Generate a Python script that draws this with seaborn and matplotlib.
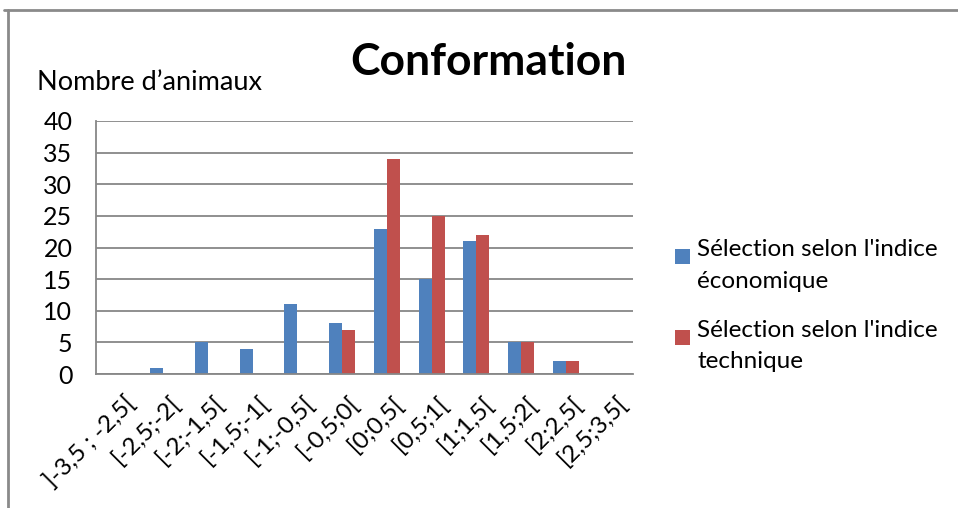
import matplotlib
matplotlib.use("Agg")
import matplotlib.pyplot as plt
from matplotlib.lines import Line2D
from matplotlib.patches import Rectangle
from matplotlib.transforms import ScaledTranslation
import seaborn as sns
import pandas as pd

classes = ["]-3,5 ; -2,5[", "[-2,5;-2[", "[-2;-1,5[", "[-1,5;-1[", "[-1;-0,5[",
           "[-0,5;0[", "[0;0,5[", "[0,5;1[", "[1;1,5[", "[1,5;2[", "[2;2,5[", "[2,5;3,5["]
economique = [0, 1, 5, 4, 11, 8, 23, 15, 21, 5, 2, 0]
technique = [0, 0, 0, 0, 0, 7, 34, 25, 22, 5, 2, 0]
series_names = ["Sélection selon l'indice\néconomique", "Sélection selon l'indice\ntechnique"]
colors = ["#4F81BD", "#C0504D"]
yticks = [0, 5, 10, 15, 20, 25, 30, 35, 40]

df = pd.DataFrame({
    "classe": classes * 2,
    "n": economique + technique,
    "serie": [series_names[0]] * len(classes) + [series_names[1]] * len(classes),
})

sns.set_theme(style="white")
plt.rcParams["font.family"] = ["Lato", "DejaVu Sans"]

W, H = 958, 508
fig = plt.figure(figsize=(W / 100, H / 100), dpi=100)
ax = fig.add_axes([96 / W, 1 - 374 / H, (633 - 96) / W, (374 - 121) / H])

sns.barplot(data=df, x="classe", y="n", hue="serie", order=classes,
            hue_order=series_names, palette=colors, width=0.58, saturation=1,
            linewidth=0, ax=ax, legend=False)

ax.set_ylim(0, 40)
ax.set_xlim(-0.5, len(classes) - 0.5)
ax.set_yticks(yticks)
ax.set_yticklabels([str(v) for v in yticks], fontsize=18, color="black")
ax.set_xticks(range(len(classes)))
ax.set_xticklabels(classes, rotation=45, ha="right", va="top",
                   rotation_mode="anchor", fontsize=17.5, color="black")
ax.tick_params(axis="x", pad=13, length=0)
ax.tick_params(axis="y", pad=17, length=0)
shift = ScaledTranslation(6 / 100, 0, fig.dpi_scale_trans)
for lab in ax.get_xticklabels():
    lab.set_transform(lab.get_transform() + shift)
ax.set_xlabel("")
ax.set_ylabel("")
ax.yaxis.grid(True, color="#878787", linewidth=1.3)
ax.set_axisbelow(True)
for side in ["top", "right"]:
    ax.spines[side].set_visible(False)
for side in ["left", "bottom"]:
    ax.spines[side].set_color("#878787")
    ax.spines[side].set_linewidth(1.3)

# legend: square key aligned with the first line of each entry
legend_baselines = [(256, 288), (337, 368)]
for name, color, (b1, b2) in zip(series_names, colors, legend_baselines):
    fig.add_artist(Rectangle((675 / W, 1 - (b1 + 8) / H), 15 / W, 15 / H,
                             transform=fig.transFigure, facecolor=color,
                             edgecolor="none"))
    first, second = name.split("\n")
    fig.text(697 / W, 1 - b1 / H, first, ha="left", va="baseline",
             fontsize=17.5, color="black")
    fig.text(697 / W, 1 - b2 / H, second, ha="left", va="baseline",
             fontsize=17.5, color="black")

fig.text(488 / W, 1 - 62 / H, "Conformation", ha="center", va="center",
         fontsize=32, fontweight="bold", color="black")
fig.text(37 / W, 1 - 83 / H, "Nombre d\u2019animaux", ha="left", va="center",
         fontsize=19.5, color="black")

# chart frame
fig.add_artist(Line2D([0.004, 1.0], [1 - 9.5 / H, 1 - 9.5 / H],
                      transform=fig.transFigure, color="#8a8a8a", linewidth=2))
fig.add_artist(Line2D([8 / W, 8 / W], [0, 1 - 9.5 / H],
                      transform=fig.transFigure, color="#8a8a8a", linewidth=2))

fig.savefig("out.png", dpi=100)
